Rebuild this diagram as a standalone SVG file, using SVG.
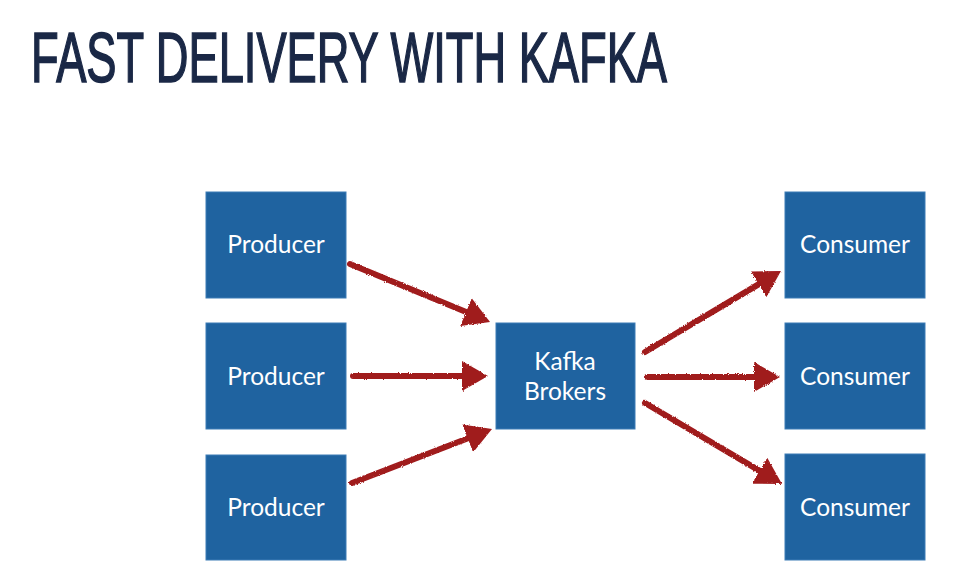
<svg xmlns="http://www.w3.org/2000/svg" width="972" height="573" viewBox="0 0 972 573">
<style>
.box{fill:#1f63a0;stroke:#3d7db6;stroke-width:1}
.lbl{font-family:Lato,"Open Sans","Liberation Sans",sans-serif;font-size:24.5px;fill:#ffffff;text-anchor:middle}
.title{font-family:"Liberation Sans",Arial,sans-serif;font-weight:normal;font-size:70px;fill:#1a2846;stroke:#1a2846;stroke-width:1.6}
.arr{stroke:#a01a1c;stroke-width:6;fill:none;stroke-linecap:round;marker-end:url(#head)}
</style>
<defs>
<filter id="rough" filterUnits="userSpaceOnUse" x="300" y="220" width="520" height="300">
<feTurbulence type="fractalNoise" baseFrequency="0.9" numOctaves="2" seed="3" result="n"/>
<feDisplacementMap in="SourceGraphic" in2="n" scale="2.5" xChannelSelector="R" yChannelSelector="G"/>
</filter>
<marker id="head" markerUnits="userSpaceOnUse" viewBox="0 0 26 30" markerWidth="26" markerHeight="30" refX="8" refY="15" orient="auto">
<path d="M0,0 L26,15 L0,30 z" fill="#a01a1c"/>
</marker>
</defs>
<rect width="972" height="573" fill="#ffffff"/>
<text class="title" x="31" y="82" textLength="636" lengthAdjust="spacingAndGlyphs">FAST DELIVERY WITH KAFKA</text>

<g id="producer1"><rect class="box" x="206" y="192" width="140" height="106"/><text class="lbl" x="276" y="253">Producer</text></g>
<g id="producer2"><rect class="box" x="206" y="323" width="140" height="106"/><text class="lbl" x="276" y="385">Producer</text></g>
<g id="producer3"><rect class="box" x="206" y="455" width="140" height="105"/><text class="lbl" x="276" y="516">Producer</text></g>
<g id="kafka"><rect class="box" x="496" y="323" width="139" height="106"/><text class="lbl" x="565" y="370">Kafka</text><text class="lbl" x="565" y="400">Brokers</text></g>
<g id="consumer1"><rect class="box" x="785" y="192" width="140" height="106"/><text class="lbl" x="855" y="253">Consumer</text></g>
<g id="consumer2"><rect class="box" x="785" y="323" width="140" height="106"/><text class="lbl" x="855" y="385">Consumer</text></g>
<g id="consumer3"><rect class="box" x="785" y="454" width="140" height="106"/><text class="lbl" x="855" y="516">Consumer</text></g>

<g id="connectors" filter="url(#rough)">
<path class="arr" d="M350,264 L473.4,315.1"/>
<path class="arr" d="M353,376 L470,376"/>
<path class="arr" d="M352,483 L475.2,435.5"/>
<path class="arr" d="M645,352 L765.5,280.2"/>
<path class="arr" d="M647,377 L762,377"/>
<path class="arr" d="M645,403 L766.5,474.8"/>
</g>
</svg>
